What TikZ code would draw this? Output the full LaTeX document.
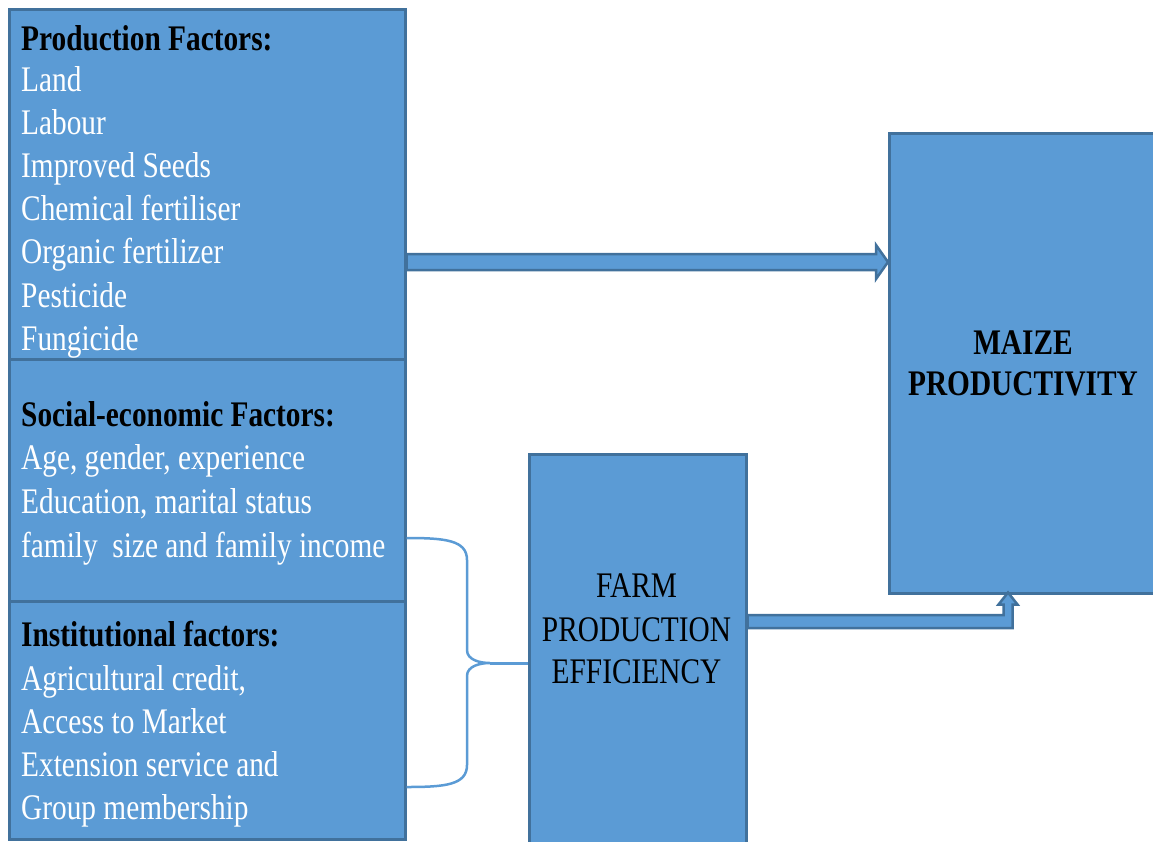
\documentclass[tikz,border=0pt]{standalone}
\usepackage{fontspec}
\setmainfont{Liberation Serif}[FakeStretch=0.815]
\usetikzlibrary{calc}
\definecolor{boxfill}{HTML}{5B9BD5}
\definecolor{boxline}{HTML}{41719C}
\tikzset{
  box/.style={draw=boxline, fill=boxfill, line width=2.5pt, inner sep=0pt, anchor=north west},
  head/.style={anchor=base west, inner sep=0pt, text=black, font=\fontsize{36pt}{43pt}\selectfont\bfseries},
  item/.style={anchor=base west, inner sep=0pt, text=white, font=\fontsize{36pt}{43pt}\selectfont},
  ctext/.style={anchor=base, inner sep=0pt, text=black, font=\fontsize{36pt}{43pt}\selectfont},
  blockarrow/.style={draw=boxline, fill=boxfill, line width=2.5pt, line join=miter},
  brace/.style={draw=boxfill, line width=2.5pt}
}
\begin{document}
\begin{tikzpicture}[x=1pt, y=-1pt]
\useasboundingbox (0,0) rectangle (1153,841);
\clip (0,0) rectangle (1153,841);
% boxes
\node[box, minimum width=396pt, minimum height=350pt] (prod) at (8,8) {};
\node[box, minimum width=396pt, minimum height=242pt] (soc) at (8,358) {};
\node[box, minimum width=396pt, minimum height=238pt] (inst) at (8,600) {};
\node[box, minimum width=217pt, minimum height=420pt] (farm) at (528,453) {};
\node[box, minimum width=270pt, minimum height=460pt] (maize) at (888,132) {};
% production text
\node[head] (ptitle) at (21,50) {Production Factors:};
\foreach \t [count=\i] in {Land, Labour, Improved Seeds, Chemical fertiliser, Organic fertilizer, Pesticide, Fungicide}
  \node[item] (p\i) at (21,{91+43.2*(\i-1)}) {\t};
% social text
\node[head] (stitle) at (21,426) {Social-economic Factors:};
\node[item] (s1) at (21,469) {Age, gender, experience};
\node[item] (s2) at (21,513) {Education, marital status};
\node[item] (s3) at (21,557) {family\ \ size and family income};
% institutional text
\node[head] (ititle) at (21,646) {Institutional factors:};
\node[item] (i1) at (21,690) {Agricultural credit,};
\node[item] (i2) at (21,733) {Access to Market};
\node[item] (i3) at (21,776) {Extension service and};
\node[item] (i4) at (21,819) {Group membership};
% farm text
\node[ctext] (f1) at (636.5,597) {FARM};
\node[ctext] (f2) at (636.5,641) {PRODUCTION};
\node[ctext] (f3) at (636.5,683) {EFFICIENCY};
% maize text
\node[ctext, font=\fontsize{36pt}{43pt}\selectfont\bfseries] (m1) at (1023,354) {MAIZE};
\node[ctext, font=\fontsize{36pt}{43pt}\selectfont\bfseries] (m2) at (1023,395) {PRODUCTIVITY};
% arrow 1
\coordinate (a1s) at (prod.east |- 0,262);
\coordinate (a1e) at (maize.west |- 0,262);
\draw[blockarrow] ($(a1s)+(0,-8)$) -- ($(a1e)+(-12,-8)$) -- ($(a1e)+(-12,-17)$) -- (a1e)
  -- ($(a1e)+(-12,17)$) -- ($(a1e)+(-12,8)$) -- ($(a1s)+(0,8)$) -- cycle;
% arrow 2
\coordinate (a2s) at (farm.east |- 0,621.5);
\coordinate (a2e) at ($(maize.south west)+(120,-2)$);
\coordinate (a2c) at (a2e |- a2s);
\draw[blockarrow] ($(a2s)+(0,-6.5)$) -- ($(a2c)+(-4.5,-6.5)$) -- ($(a2e)+(-4.5,12)$) -- ($(a2e)+(-9.5,12)$)
  -- (a2e) -- ($(a2e)+(9.5,12)$) -- ($(a2e)+(4.5,12)$) -- ($(a2c)+(4.5,6.5)$) -- ($(a2s)+(0,6.5)$) -- cycle;
% brace
\coordinate (b1) at (soc.east |- 0,538);
\coordinate (b2) at (inst.east |- 0,787);
\coordinate (btip) at (490,663);
\draw[brace] (b1) .. controls (445,538) and (467,540) .. (467,560) -- (467,650)
  .. controls (467,660) and (480,663) .. (btip)
  .. controls (480,663) and (467,666) .. (467,676) -- (467,765)
  .. controls (467,785) and (445,787) .. (b2);
\draw[brace, line width=3pt] (btip) -- (farm.west |- btip);
\end{tikzpicture}
\end{document}
